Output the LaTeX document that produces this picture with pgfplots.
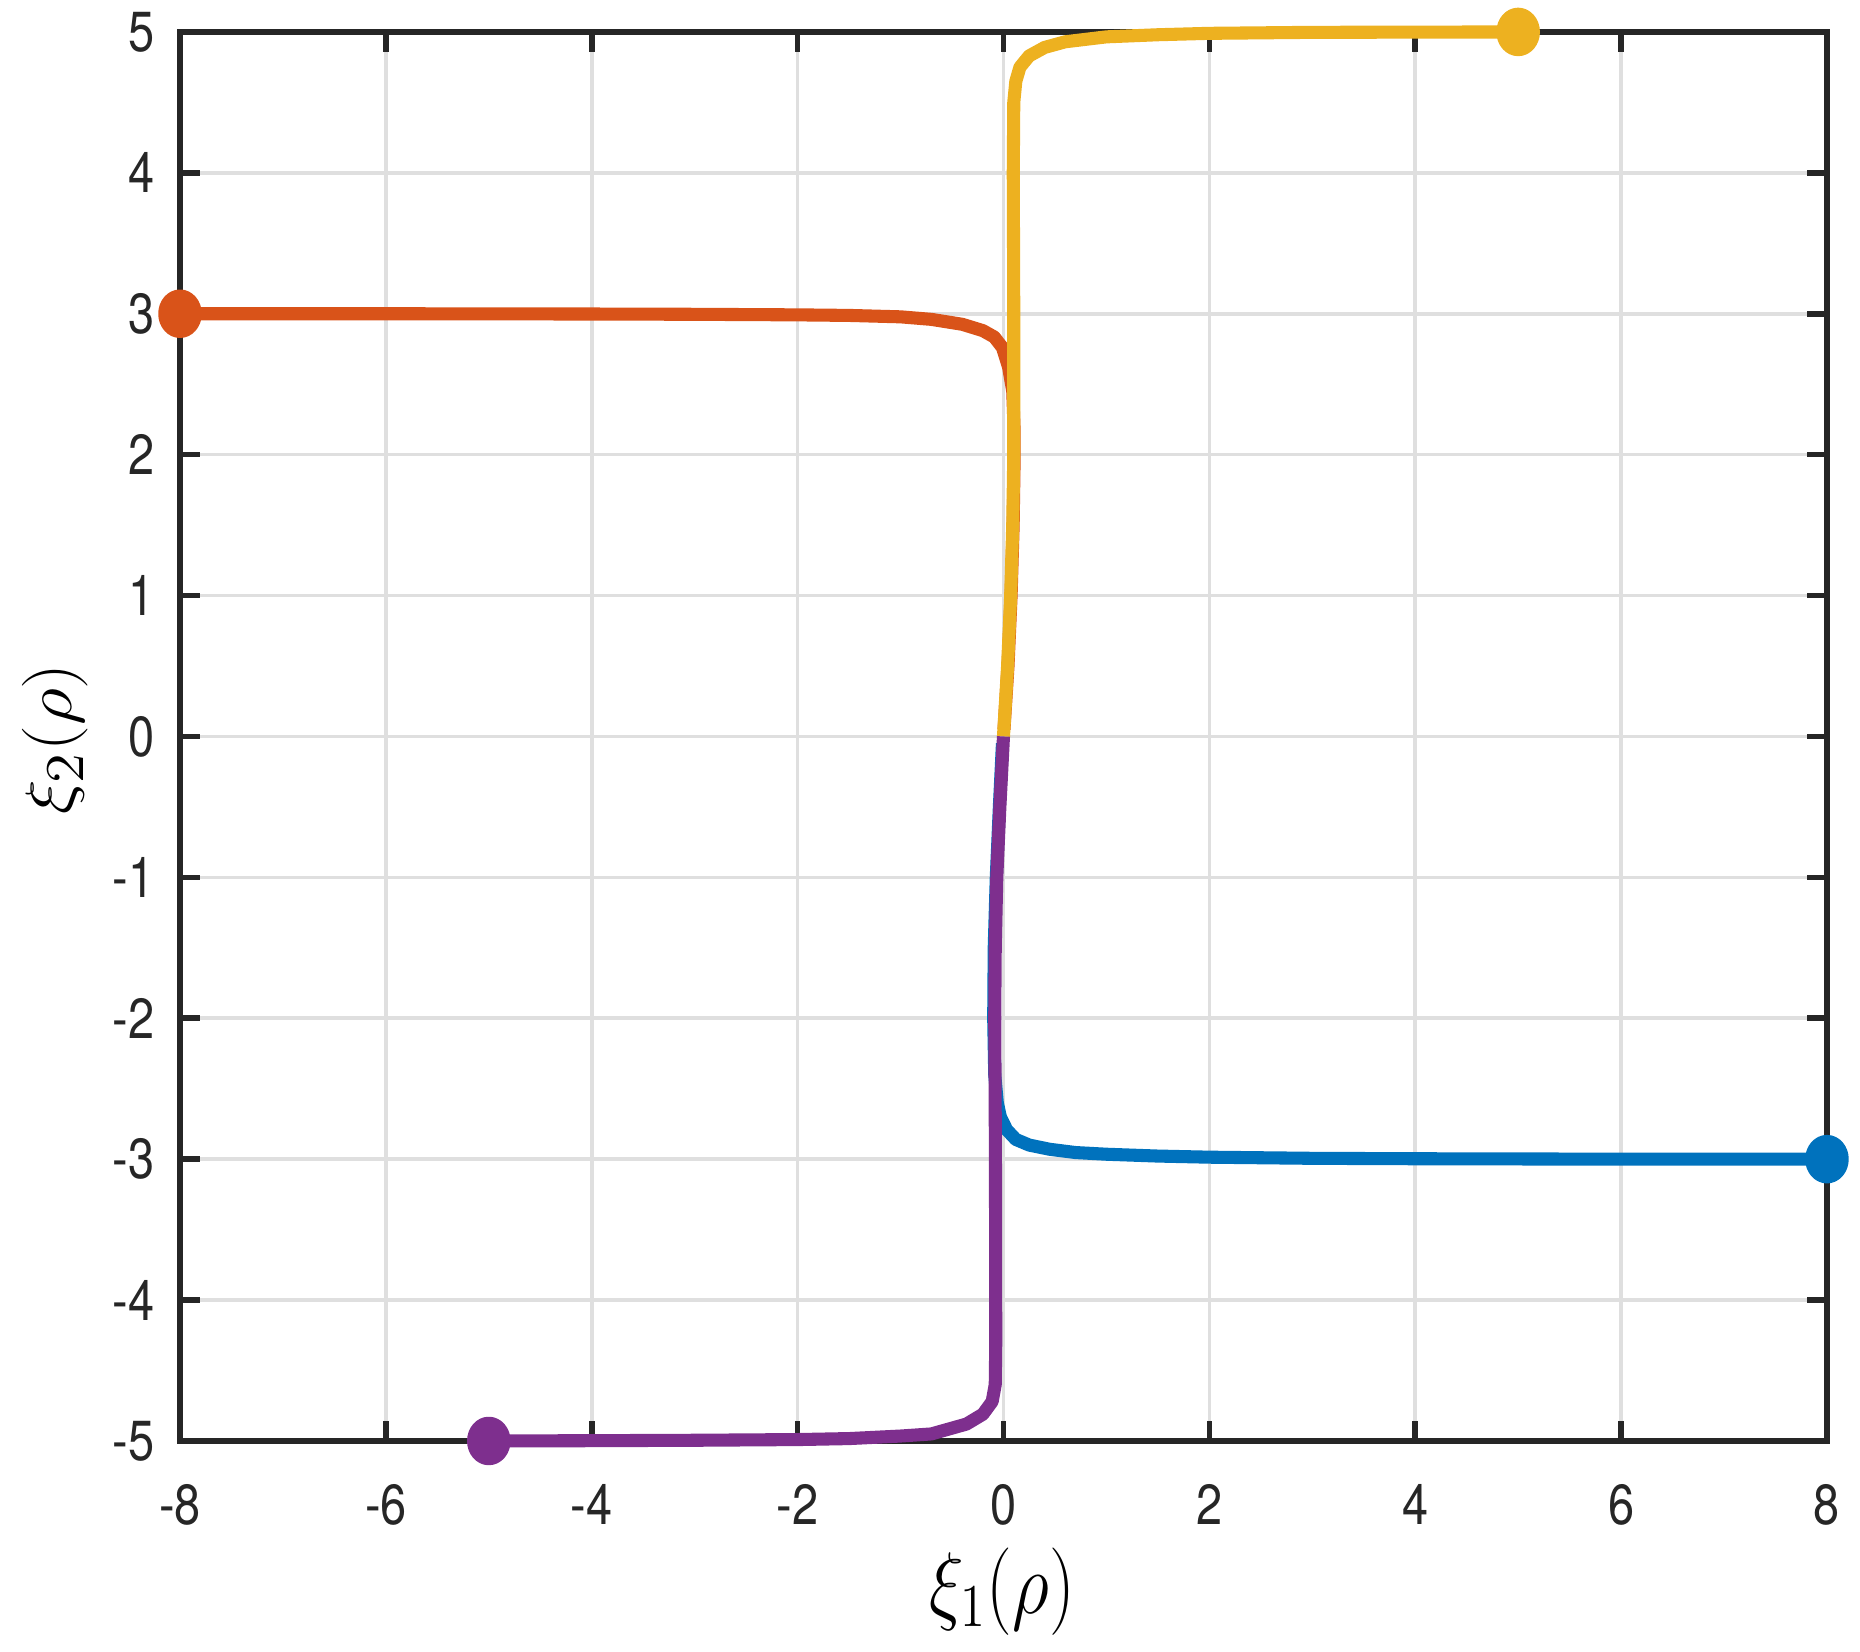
\documentclass[border=0pt]{standalone}
\usepackage{fontspec}
\usepackage{pgfplots}
\pgfplotsset{compat=1.18}
\newfontfamily\tickfont{TeX Gyre Heros}[FakeStretch=0.83]
\definecolor{mblue}{RGB}{0,114,189}
\definecolor{mred}{RGB}{217,83,25}
\definecolor{myellow}{RGB}{237,177,32}
\definecolor{mpurple}{RGB}{126,47,142}
\definecolor{gridgray}{RGB}{223,223,223}
\definecolor{axgray}{RGB}{38,38,38}

\pgfplotsset{
  traj/.style={line width=3.1pt, line join=round, mark=*, mark indices={1},
    mark size=4.2pt, mark options={draw=none, xscale=0.86}},
}

\begin{document}
\begin{tikzpicture}
\useasboundingbox (-1.5cm,-1.758cm) rectangle (14.0cm,12.008cm);
\begin{axis}[
    at={(0,0)}, anchor=south west,
    scale only axis, width=13.725cm, height=11.742cm,
    xmin=-8, xmax=8, ymin=-5, ymax=5,
    xtick={-8,-6,-4,-2,0,2,4,6,8},
    ytick={-5,-4,-3,-2,-1,0,1,2,3,4,5},
    xticklabels={-8,-6,-4,-2,0,2,4,6,8},
    yticklabels={-5,-4,-3,-2,-1,0,1,2,3,4,5},
    tick label style={font=\fontsize{13.4}{14}\selectfont\tickfont, inner sep=0pt, text=axgray},
    xticklabel style={anchor=center, yshift=-0.533cm},
    yticklabel style={anchor=east, xshift=-0.208cm},
    tick align=inside, tick pos=both,
    major tick length=0.17cm,
    grid=major, grid style={color=gridgray, line width=0.85pt},
    axis line style={color=axgray, line width=1.35pt},
    every tick/.style={color=axgray, line width=1.35pt},
    clip=false,
]
% blue, starts at (8,-3)
\addplot[traj, color=mblue] coordinates {
  (8,-3) (6,-3) (4,-2.997) (3,-2.994) (2,-2.986) (1.5,-2.978) (1,-2.965)
  (0.7,-2.953) (0.45,-2.93) (0.25,-2.9) (0.12,-2.86) (0.03,-2.79)
  (-0.03,-2.7) (-0.06,-2.6) (-0.085,-2.4) (-0.095,-2) (-0.09,-1.5)
  (-0.07,-1) (-0.04,-0.5) (-0.01,-0.05)
};
% red, starts at (-8,3)
\addplot[traj, color=mred] coordinates {
  (-8,3) (-6,3) (-4,2.998) (-3,2.996) (-2,2.992) (-1.5,2.988) (-1,2.978)
  (-0.7,2.96) (-0.4,2.925) (-0.2,2.88) (-0.09,2.835) (-0.01,2.76)
  (0.05,2.62) (0.09,2.45) (0.102,2.2) (0.104,2) (0.094,1.5) (0.074,1)
  (0.044,0.5) (0.005,0.05)
};
% yellow, starts at (5,5)
\addplot[traj, color=myellow] coordinates {
  (5,5) (3,4.997) (2,4.99) (1.5,4.98) (1,4.965) (0.6,4.93) (0.4,4.89)
  (0.25,4.83) (0.16,4.75) (0.12,4.65) (0.1,4.5) (0.095,4) (0.1,3)
  (0.1,2) (0.09,1.5) (0.07,1) (0.04,0.5) (0,0)
};
% purple, starts at (-5,-5)
\addplot[traj, color=mpurple] coordinates {
  (-5,-5) (-4,-4.998) (-3,-4.995) (-2,-4.99) (-1.5,-4.983) (-1,-4.965)
  (-0.7,-4.95) (-0.36,-4.88) (-0.2,-4.81) (-0.11,-4.72) (-0.08,-4.6)
  (-0.075,-4.3) (-0.078,-3) (-0.085,-2) (-0.08,-1.5) (-0.065,-1)
  (-0.035,-0.5) (0,0)
};
\end{axis}
\node at (6.85cm,-1.258cm) {\fontsize{19.7}{22}\selectfont\scalebox{0.83}[1]{$\xi_1(\rho)$}};
\node[rotate=90] at (-1.042cm,5.85cm) {\fontsize{19}{22}\selectfont\scalebox{1}[0.9]{$\xi_2(\rho)$}};
\end{tikzpicture}
\end{document}
